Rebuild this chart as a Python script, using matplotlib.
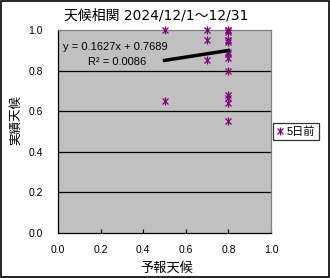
import matplotlib
matplotlib.use("Agg")
import matplotlib.pyplot as plt
from matplotlib.patches import Rectangle
from matplotlib.lines import Line2D
import numpy as np

plt.rcParams['font.family'] = ['Liberation Sans', 'Noto Sans CJK JP']

title = "天候相関 2024/12/1～12/31"
x_label = "予報天候"
y_label = "実績天候"
series_name = "5日前"
forecast = [0.5, 0.5, 0.7, 0.7, 0.7, 0.8, 0.8, 0.8, 0.8, 0.8, 0.8, 0.8,
            0.8, 0.8, 0.8, 0.8, 0.8, 0.8, 0.8]
actual = [1.0, 0.65, 1.0, 0.95, 0.85, 1.0, 0.99, 0.95, 0.94, 0.89, 0.88,
          0.86, 0.80, 0.68, 0.665, 0.64, 0.55, 1.0, 0.95]
slope = 0.1627
intercept = 0.7689
r2 = 0.0086
ticks = [0.0, 0.2, 0.4, 0.6, 0.8, 1.0]
tick_labels = ["0.0", "0.2", "0.4", "0.6", "0.8", "1.0"]

fig = plt.figure(figsize=(3.3, 2.78), dpi=100)
fig.patch.set_facecolor('white')
fig.add_artist(Rectangle((0.002, 0.002), 0.995, 0.994, transform=fig.transFigure,
                         fill=False, edgecolor='black', linewidth=1.2))

ax = fig.add_axes([0.1758, 0.1619, 0.6454, 0.7302])
ax.set_facecolor('#c0c0c0')
ax.set_xlim(0, 1)
ax.set_ylim(0, 1)
ax.set_xticks(ticks)
ax.set_xticklabels(tick_labels)
ax.set_yticks(ticks)
ax.set_yticklabels(tick_labels)
ax.tick_params(direction='in', length=3, width=0.8, labelsize=7.5)
ax.tick_params(axis='x', pad=8.5)
ax.tick_params(axis='y', pad=11)
for y in ticks[1:-1]:
    ax.axhline(y, color='black', linewidth=0.9, zorder=1)
ax.spines['left'].set_color('black')
ax.spines['bottom'].set_color('black')
ax.spines['top'].set_color('#808080')
ax.spines['right'].set_color('#808080')
for s in ax.spines.values():
    s.set_linewidth(0.9)

purple = '#800080'
ax.plot(forecast, actual, linestyle='none', marker='x', markersize=5,
        color=purple, markeredgewidth=0.9, zorder=3, clip_on=False)
ax.plot(forecast, actual, linestyle='none', marker='|', markersize=6,
        color=purple, markeredgewidth=0.9, zorder=3, clip_on=False)

xs = np.array([min(forecast), max(forecast)])
ax.plot(xs, slope * xs + intercept, color='black', linewidth=2.5, zorder=4)

ax.text(0.0235, 0.916, f"y = {slope:.4f}x + {intercept:.4f}", fontsize=8,
        transform=ax.transAxes, va='center')
ax.text(0.141, 0.842, f"R² = {r2:.4f}", fontsize=8,
        transform=ax.transAxes, va='center')

fig.text(0.474, 0.946, title, ha='center', va='center', fontsize=10,
         family=['DejaVu Sans', 'Noto Sans CJK JP'])
fig.text(0.506, 0.036, x_label, ha='center', va='center', fontsize=9.5,
         family='Noto Sans CJK JP')
fig.text(0.048, 0.568, y_label, ha='center', va='center', fontsize=9,
         rotation=90, family='Noto Sans CJK JP')

h1 = Line2D([], [], linestyle='none', marker='x', markersize=5, color=purple, markeredgewidth=0.9)
h2 = Line2D([], [], linestyle='none', marker='|', markersize=6, color=purple, markeredgewidth=0.9)
leg = fig.legend([(h1, h2)], [series_name], loc='center left',
                 bbox_to_anchor=(0.827, 0.527), fontsize=8, frameon=True,
                 fancybox=False, handlelength=0.7, handletextpad=0.25,
                 borderpad=0.3, borderaxespad=0,
                 prop={'family': ['Liberation Sans', 'Noto Sans CJK JP'], 'size': 8})
leg.get_frame().set_edgecolor('black')
leg.get_frame().set_linewidth(0.9)

fig.savefig("out.png", dpi=100)
